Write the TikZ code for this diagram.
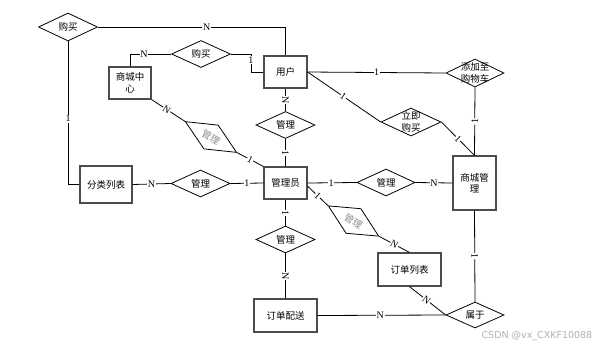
\documentclass[tikz,border=0pt]{standalone}
\usepackage{fontspec}
\setmainfont{Liberation Serif}
\newfontfamily\cjk{Noto Sans CJK SC}
\usetikzlibrary{shapes.geometric,calc}
\begin{document}
\begin{tikzpicture}[x=1pt,y=-1pt,
  every path/.style={line width=0.8pt},
  ent/.style={draw=black!70, line width=1.2pt, rectangle, inner sep=0pt,
     font=\cjk\fontsize{9.5}{11.5}\selectfont, align=center},
  rel/.style={draw, diamond, inner sep=0pt, line width=0.8pt},
  lbl/.style={fill=white, inner sep=0.6pt, font=\fontsize{10}{10}\selectfont},
  ctext/.style={font=\cjk\fontsize{9.5}{11.5}\selectfont, align=center},
]
\useasboundingbox (0,0) rectangle (603,346);
\fill[white] (0,0) rectangle (603,346);

% entities
\node[ent, minimum width=43pt, minimum height=32pt] (user) at (285.5,72) {用户};
\node[ent, minimum width=42pt, minimum height=32pt] (center) at (130,83) {商城中\\心};
\node[ent, minimum width=43pt, minimum height=32pt] (admin) at (285.5,183) {管理员};
\node[ent, minimum width=52pt, minimum height=37pt] (cls) at (106,184.5) {分类列表};
\node[ent, minimum width=43pt, minimum height=54pt] (mall) at (474.5,183) {商城管\\理};
\node[ent, minimum width=63pt, minimum height=33pt] (olist) at (409.5,269.5) {订单列表};
\node[ent, minimum width=63pt, minimum height=33pt] (ship) at (285.5,315.5) {订单配送};

% relationships
\node[rel, minimum width=59pt, minimum height=28pt, label={[ctext]center:购买}] (buy1) at (68,27) {};
\node[rel, minimum width=59pt, minimum height=27pt, label={[ctext]center:购买}] (buy2) at (201,54) {};
\node[rel, minimum width=59pt, minimum height=27pt, label={[ctext]center:管理}] (m1) at (285.5,125) {};
\node[rel, ctext, text=black!45, aspect=2, minimum width=60pt, minimum height=28pt, rotate=-31] (m2) at (211,137) {管理};
\node[rel, minimum width=59pt, minimum height=27pt, label={[ctext]center:管理}] (m3) at (200.5,183.5) {};
\node[rel, minimum width=58pt, minimum height=27pt, label={[ctext]center:管理}] (m4) at (386,182.5) {};
\node[rel, minimum width=58pt, minimum height=28pt, label={[ctext]center:添加至\\购物车}] (add) at (475,73) {};
\node[rel, minimum width=60pt, minimum height=28pt, label={[ctext]center:立即\\购买}] (now) at (411,122) {};
\node[rel, ctext, text=black!45, aspect=2, minimum width=59pt, minimum height=29pt, rotate=-31] (m5) at (353.5,221) {管理};
\node[rel, minimum width=59pt, minimum height=27pt, label={[ctext]center:管理}] (m6) at (285.5,239.5) {};
\node[rel, minimum width=58pt, minimum height=26pt, label={[ctext]center:属于}] (belong) at (475,315) {};

% connectors
\draw (buy1.east) -| node[lbl, pos=0.29] {N} (user.north);
\draw (buy1.south) |- node[lbl, pos=0.27] {1} (cls.west);
\draw (center.north) |- node[lbl, pos=0.67] {N} (buy2.west);
\coordinate (bend) at ($(buy2.east)+(20,0)$);
\draw (buy2.east) -- (bend) |- node[lbl, pos=0.17] {1} (user.west);
\draw (user.south) -- node[lbl, sloped] {N} (m1.north);
\draw (m1.south) -- node[lbl, sloped] {1} (admin.north);
\draw (center.south east) -- node[lbl, sloped, pos=0.45] {N} (m2.west);
\draw (m2.east) -- node[lbl, sloped] {1} (admin.north west);
\draw (cls.east) -- node[lbl] {N} (m3.west);
\draw (m3.east) -- node[lbl] {1} (admin.west);
\draw (admin.east) -- node[lbl, pos=0.48] {1} (m4.west);
\draw (m4.east) -- node[lbl] {N} (mall.west);
\draw (user.east) -- node[lbl] {1} (add.west);
\draw (add.south) -- node[lbl, sloped] {1} (mall.north);
\draw (user.east) -- node[lbl, sloped, pos=0.49] {1} (now.west);
\draw (now.east) -- node[lbl, sloped] {1} (mall.north);
\draw (admin.-8) -- node[lbl, sloped] {1} (m5.west);
\draw (m5.east) -- node[lbl, sloped] {N} (olist.north);
\draw (admin.south) -- node[lbl, sloped] {1} (m6.north);
\draw (m6.south) -- node[lbl, sloped] {N} (ship.north);
\draw (ship.east) -- node[lbl, pos=0.49] {N} (belong.west);
\draw (olist.south) -- node[lbl, sloped, pos=0.47] {N} (belong.west);
\draw (mall.south) -- node[lbl, sloped] {1} (belong.north);

% watermark
\node[anchor=east, text=black!30, font=\fontsize{9.5}{10}\selectfont\fontspec{DejaVu Sans}] (wm) at (596,336) {CSDN @vx\_CXKF10088};
\end{tikzpicture}
\end{document}
